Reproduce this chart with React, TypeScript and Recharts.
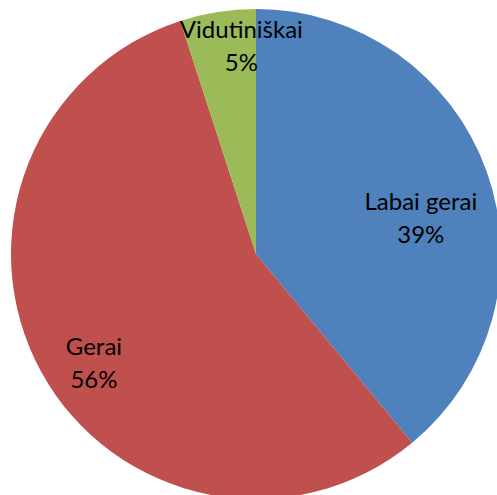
import React from 'react';
import { PieChart, Pie, Cell } from 'recharts';

const categories = ['Labai gerai', 'Gerai', 'Vidutiniškai'];
const values = [39, 56, 5];
const colors = ['#4F81BD', '#C0504D', '#9BBB59'];

const data = categories.map((name, i) => ({ name, value: values[i] }));

// label placement per slice: distance from centre and angle nudge (deg)
const labelPlace = [
  { r: 169, d: -7 },
  { r: 195, d: 5 },
  { r: 210, d: -5 },
];

const RADIAN = Math.PI / 180;

const renderLabel = (props: any) => {
  const { cx, cy, midAngle, index, percent, name } = props;
  const p = labelPlace[index];
  const a = (midAngle + p.d) * RADIAN;
  const x = cx + p.r * Math.cos(a);
  const y = cy - p.r * Math.sin(a);
  return (
    <text x={x} y={y} textAnchor="middle" fill="#000" style={{ fontSize: 24, fontFamily: "Lato, 'Open Sans', sans-serif" }}>
      <tspan x={x} dy={-7}>{name}</tspan>
      <tspan x={x} dy={33}>{`${Math.round(percent * 100)}%`}</tspan>
    </text>
  );
};

const App: React.FC = () => {
  return (
    <div style={{ position: 'absolute', left: 0, top: 0, width: 497, height: 495, background: '#fff' }}>
      <PieChart width={497} height={495} margin={{ top: 0, right: 0, bottom: 0, left: 0 }}>
        <Pie
          data={data}
          dataKey="value"
          nameKey="name"
          cx={256}
          cy={254}
          outerRadius={245}
          startAngle={90}
          endAngle={-270}
          stroke="none"
          label={renderLabel}
          labelLine={false}
          isAnimationActive={false}
        >
          {data.map((d, i) => (
            <Cell key={d.name} fill={colors[i]} />
          ))}
        </Pie>
      </PieChart>
    </div>
  );
};

export default App;
